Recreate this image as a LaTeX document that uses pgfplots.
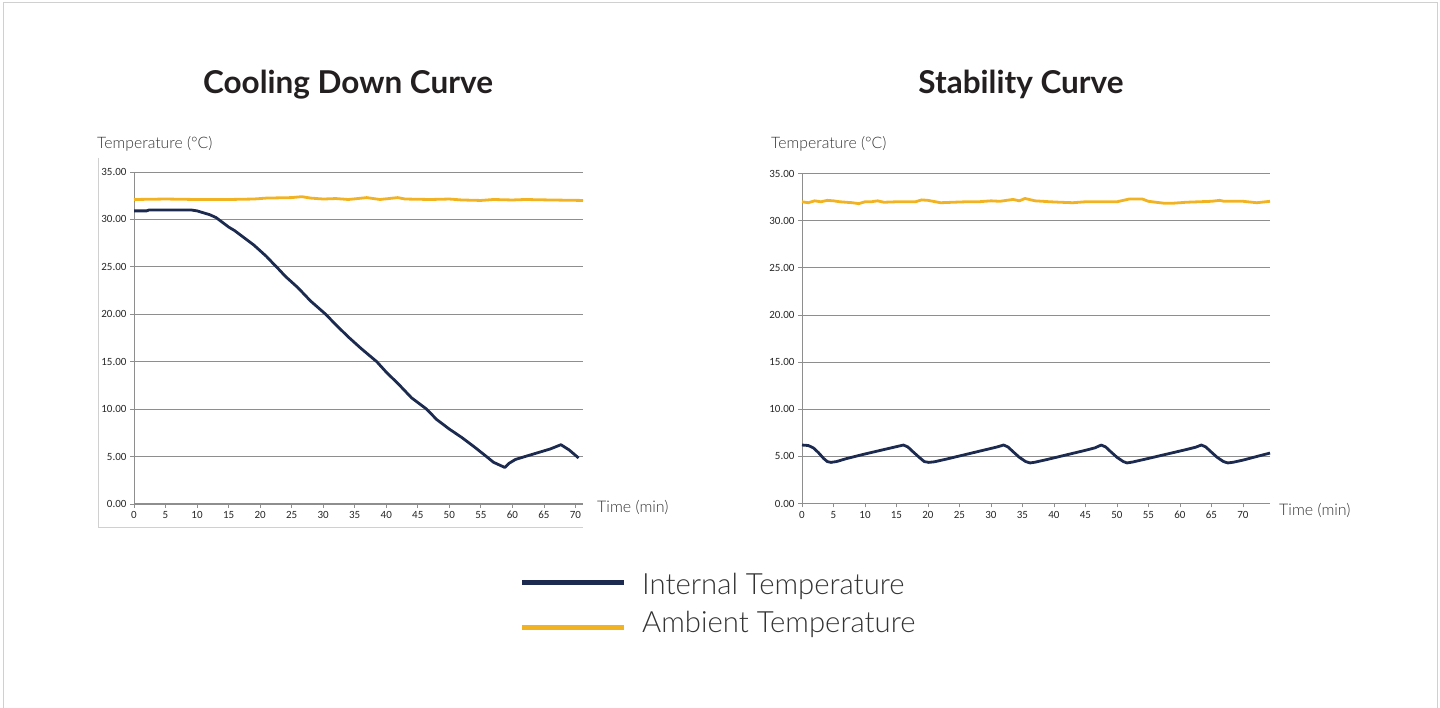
\documentclass[border=0pt]{standalone}
\usepackage{pgfplots}
\pgfplotsset{compat=1.18}
\usepackage{pgfplotstable}
\usepackage{fontspec}
\setmainfont{Lato}
\newfontfamily\lightfont{Lato Light}
\newfontfamily\tickfont{Carlito}

\definecolor{navy}{HTML}{1B2A4E}
\definecolor{amber}{HTML}{F2B323}
\definecolor{gridgray}{HTML}{8E8E8E}
\definecolor{boxgray}{HTML}{D0D0D0}
\definecolor{labelgray}{HTML}{333333}
\definecolor{titleblack}{HTML}{231F20}

% cooling down curve
\pgfplotstableread{
t T
0 30.9
2.0 30.9
2.4 31.0
9.0 31.0
10 30.9
11 30.7
12 30.5
13 30.2
14 29.7
15 29.2
16 28.8
17 28.3
18 27.8
19 27.3
20 26.7
21 26.1
22 25.4
22.6 25.0
24 24.0
26 22.8
28 21.4
30.4 20.0
32 18.9
34 17.6
36 16.4
38.5 15.0
40 13.9
42 12.6
44 11.2
46.4 10.0
48 8.9
50 7.9
52 7.0
54 6.0
55.9 5.0
57 4.4
58.8 3.85
59.5 4.3
60.5 4.7
62 5.0
64 5.4
66 5.8
67.7 6.25
69 5.7
70.5 4.85
}\coolint

\pgfplotstableread{
t T
0 32.1
5 32.15
10 32.1
15 32.1
19 32.15
21 32.25
25 32.3
26.6 32.4
28 32.25
30 32.15
32 32.2
34 32.1
36.9 32.3
39 32.1
41.8 32.3
43 32.15
47 32.1
50 32.15
52 32.05
55 32.0
57 32.1
60 32.05
62 32.1
66 32.05
71.2 32.0
}\coolamb

% stability curve
\pgfplotstableread{
t T
0 6.2
1.0 6.15
1.8 5.9
2.6 5.4
3.4 4.8
4.0 4.45
4.6 4.36
5.5 4.45
7 4.75
10 5.25
13 5.72
15 6.03
16.1 6.2
16.8 6.0
17.6 5.5
18.6 4.9
19.4 4.45
20.1 4.36
21 4.42
23 4.72
26 5.2
29 5.68
31 6.0
32.0 6.2
32.7 6.0
33.5 5.5
34.5 4.9
35.5 4.45
36.2 4.3
37 4.38
39 4.68
42 5.16
45 5.64
46.5 5.9
47.5 6.2
48.2 6.0
49 5.5
50 4.9
51 4.45
51.6 4.3
52.5 4.4
55 4.78
58 5.25
61 5.72
62.5 5.97
63.4 6.2
64.1 6.0
64.9 5.5
65.9 4.9
66.9 4.45
67.6 4.3
68.5 4.38
70 4.6
72 4.95
74.3 5.35
}\stabint

\pgfplotstableread{
t T
0 32.0
1 31.9
2 32.1
3 32.0
4 32.15
5 32.1
6 32.0
8 31.9
9 31.8
10 32.0
11 32.0
12 32.1
13 31.95
15 32.0
18 32.0
19 32.2
20 32.15
22 31.9
24 31.95
26 32.0
28 32.0
30 32.1
31.4 32.05
33.5 32.25
34.5 32.1
35.4 32.35
37 32.1
39.4 32.0
41 31.95
43 31.9
45 32.0
47 32.0
50 32.0
52 32.3
54 32.3
55 32.05
57.4 31.85
59 31.85
61 31.95
63 32.0
65 32.05
66.3 32.15
67 32.05
70 32.05
72.2 31.9
74.3 32.05
}\stabamb

\pgfplotsset{
  tempaxis/.style={
    scale only axis,
    anchor=south west,
    xmin=0, ymin=0, ymax=35,
    xtick={0,5,...,70},
    ytick={0,5,...,35},
    axis lines*=left,
    axis line style={gridgray, line width=1pt},
    ymajorgrids,
    major grid style={gridgray, line width=0.8pt},
    tick style={gridgray, line width=0.8pt},
    tick align=outside,
    major tick length=4pt,
    tick label style={font=\tickfont\fontsize{11}{11}\selectfont, text=black!85},
    /pgf/number format/assume math mode=true,
    yticklabel style={/pgf/number format/.cd, fixed, fixed zerofill, precision=2},
    xticklabel style={/pgf/number format/.cd, fixed, precision=0},
    clip=false,
  },
  intline/.style={navy, line width=2.8pt, line join=round},
  ambline/.style={amber, line width=2.8pt, line join=round},
}

\begin{document}
\begin{tikzpicture}[x=1pt,y=1pt]
\useasboundingbox (0,0) rectangle (1440,708);
\draw[boxgray, line width=1pt] (3,-20) rectangle (1437,705);

% titles
\node[anchor=base, font=\bfseries\fontsize{31.5}{31.5}\selectfont, text=titleblack] at (348,614) {Cooling Down Curve};
\node[anchor=base, font=\bfseries\fontsize{31.5}{31.5}\selectfont, text=titleblack] at (1021,614) {Stability Curve};

% chart area frame of the left chart
\draw[boxgray, line width=1pt] (98,550) -- (98,180) -- (583,180);

% axis titles
\node[anchor=base west, inner sep=0, font=\lightfont\fontsize{15.8}{15.8}\selectfont, text=labelgray] at (97,559.7) {Temperature (°C)};
\node[anchor=base west, inner sep=0, font=\lightfont\fontsize{15.8}{15.8}\selectfont, text=labelgray] at (771,559.7) {Temperature (°C)};
\node[anchor=base west, inner sep=0, font=\lightfont\fontsize{16}{16}\selectfont, text=labelgray] at (597,195.3) {Time (min)};
\node[anchor=base west, inner sep=0, font=\lightfont\fontsize{16}{16}\selectfont, text=labelgray] at (1279,192) {Time (min)};

\begin{axis}[tempaxis, at={(134pt,204pt)}, width=449pt, height=332pt, xmax=71.2]
  \addplot[ambline] table[x=t, y=T] {\coolamb};
  \addplot[intline] table[x=t, y=T] {\coolint};
\end{axis}

\begin{axis}[tempaxis, at={(802pt,204.5pt)}, width=468pt, height=330pt, xmax=74.3]
  \addplot[ambline] table[x=t, y=T] {\stabamb};
  \addplot[intline] table[x=t, y=T] {\stabint};
\end{axis}

% legend
\draw[navy, line width=5pt] (522,125) -- (624,125);
\draw[amber, line width=5pt] (522,80) -- (624,80);
\node[anchor=base west, inner sep=0, font=\lightfont\fontsize{29.3}{29.3}\selectfont, text=labelgray] at (642,113) {Internal Temperature};
\node[anchor=base west, inner sep=0, font=\lightfont\fontsize{29.3}{29.3}\selectfont, text=labelgray] at (642,75) {Ambient Temperature};
\end{tikzpicture}
\end{document}
